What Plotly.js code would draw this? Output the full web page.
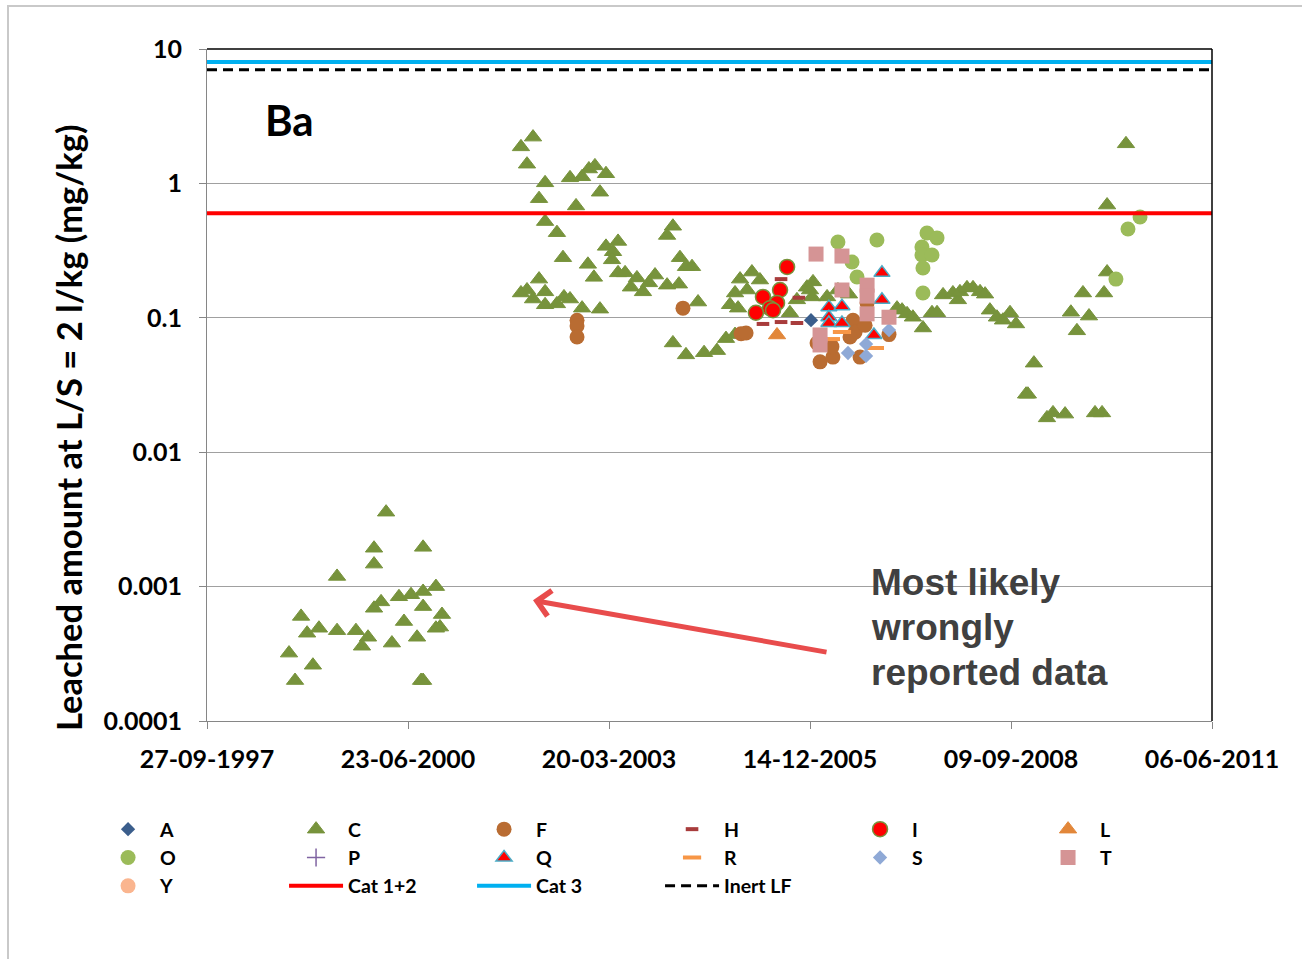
<!DOCTYPE html>
<html><head><meta charset="utf-8">
<script src="https://cdn.plot.ly/plotly-3.0.1.min.js"></script>
<style>
html,body{margin:0;padding:0;background:#fff;overflow:hidden}
#chart{position:absolute;left:0;top:0;width:1302px;height:959px}
#frame{position:absolute;left:7px;top:5px;width:1400px;height:1000px;border-left:2px solid #C9C9C9;border-top:2px solid #C9C9C9;pointer-events:none}
</style></head><body>
<div id="chart"></div><div id="frame"></div>
<script>
// x values are Excel date serials (days), y values in mg/kg
const A_x = [38705];
const A_y = [0.096];
const C_x = [
 36108,36138,36168,36198,36227,36257,36347,36347,36441,36471,36501,36531,36531,36531,36566,36591,36620,36655,36680,36715,36745,36765,36775,36775,36775,36775,36839,36869,36859,36839,
 37262,37322,37292,37382,37352,37506,37566,37600,37630,37685,37655,37536,37382,37441,37471,37595,37625,37685,37720,37745,37715,37745,37780,37839,37809,37869,37899,37929,37989,38048,38018,37989,38053,38083,38113,38143,
 37262,37292,37322,37352,37382,37382,37441,37476,37506,37566,37655,38018,38083,38173,38237,38282,38327,
 38352,38411,38451,38327,38387,38302,38342,38600,38635,38685,38715,38710,38785,38839,38894,38700,
 39133,39158,39183,39212,39262,39307,39332,39362,39411,39436,39446,39481,39511,39546,39571,39595,39630,39660,39695,39725,
 39814,39775,39784,39879,39909,39969,40118,40153,39998,40088,40028,40058,40163,40178,40178,40272
];
const C_y = [
 0.00032,0.0002,0.0006,0.00045,0.00026,0.00049,0.00119,0.00047,0.00047,0.00036,0.00042,0.00193,0.00147,0.00069,0.00077,0.00358,0.00038,0.00084,0.00055,0.00087,0.00042,0.0002,0.0002,0.00196,0.00092,0.00071,0.001,0.00062,0.0005,0.00049,
 1.87,2.21,1.39,1.01,0.77,1.10,1.12,1.28,1.35,1.18,0.86,0.68,0.52,0.43,0.28,0.25,0.20,0.34,0.31,0.37,0.27,0.216,0.216,0.198,0.169,0.156,0.182,0.208,0.175,0.178,0.48,0.41,0.28,0.24,0.24,0.131,
 0.153,0.161,0.138,0.194,0.156,0.125,0.127,0.143,0.138,0.118,0.116,0.065,0.053,0.055,0.057,0.070,0.075,
 0.194,0.219,0.191,0.153,0.161,0.125,0.118,0.109,0.136,0.169,0.185,0.143,0.143,0.161,0.150,0.161,
 0.118,0.114,0.107,0.101,0.084,0.109,0.109,0.148,0.153,0.136,0.156,0.167,0.167,0.156,0.150,0.114,0.101,0.096,0.109,0.090,
 0.046,0.027,0.027,0.018,0.0196,0.0192,0.0196,0.0196,0.110,0.103,0.080,0.153,0.153,0.219,0.69,1.97
];
const F_x = [37541,37541,37541,38068,38357,38382,38735,38750,38814,38809,38914,38924,38949,38984,39093,38899,38974];
const F_y = [0.096,0.087,0.072,0.118,0.076,0.077,0.065,0.047,0.051,0.061,0.096,0.078,0.051,0.129,0.075,0.072,0.088];
const H_x = [38466,38556,38556,38635,38645];
const H_y = [0.090,0.194,0.093,0.0915,0.141];
const I_x = [38586,38551,38466,38536,38501,38431,38516];
const I_y = [0.239,0.161,0.143,0.129,0.118,0.109,0.114];
const L_x = [38536];
const L_y = [0.0745];
const O_x = [38839,39033,38909,38934,39282,39332,39257,39257,39307,39262,39262,40342,40282,40222];
const O_y = [0.366,0.379,0.26,0.201,0.428,0.393,0.336,0.293,0.293,0.235,0.153,0.562,0.458,0.194];
const P_x = [38700];   // no visible value in the chart
const P_y = [null];
const Q_x = [38794,38859,38794,38794,38859,39058,39058,39018];
const Q_y = [0.12,0.122,0.101,0.0915,0.0915,0.216,0.136,0.0745];
const R_x = [38804,38859,39023];
const R_y = [0.0695,0.0784,0.0596];
const S_x = [38889,38979,38979,39093];
const S_y = [0.0547,0.0638,0.052,0.0811];
const T_x = [38730,38859,38859,38984,38984,38984,39093,38750,38750];
const T_y = [0.298,0.288,0.161,0.175,0.145,0.107,0.101,0.0745,0.0628];
const Y_x = [38700];   // no visible value in the chart
const Y_y = [null];
// limit values
const limitCat12 = 0.6;
const limitCat3 = 8;
const limitInertLF = 7;
// axis
const xStart = 35700, xEnd = 40700;
const tickSerials = [35700, 36700, 37700, 38700, 39700, 40700];
const tickLabels = ['27-09-1997','23-06-2000','20-03-2003','14-12-2005','09-09-2008','06-06-2011'];
const yTickVals = [0.0001, 0.001, 0.01, 0.1, 1, 10];
const yTickText = ['0.0001','0.001','0.01','0.1','1','10'];
const arrowTipX = 37322, arrowTipY = 0.00079;
const noteLines = ['Most likely', 'wrongly', 'reported data'];

function d(s){ return new Date(Date.UTC(1899,11,30) + s*86400000).toISOString().slice(0,10); }
function dx(arr){ return arr.map(d); }

const olive = '#77933C';
function pts(name, xs, ys, marker){
  return {type:'scatter', mode:'markers', name:name, x:dx(xs), y:ys, marker:marker, hoverinfo:'skip', showlegend:true};
}
function lim(name, v, line){
  return {type:'scatter', mode:'lines', name:name, x:[d(xStart), d(xEnd)], y:[v, v], line:line, hoverinfo:'skip'};
}
const traces = [
  pts('A', A_x, A_y, {symbol:'diamond', size:11, color:'#3B5E8C'}),
  pts('C', C_x, C_y, {symbol:'triangle-up', size:15, color:olive, line:{color:olive, width:1}}),
  pts('F', F_x, F_y, {symbol:'circle', size:15, color:'#B96C32'}),
  pts('H', H_x, H_y, {symbol:'line-ew', size:9, line:{color:'#A83C3C', width:4}}),
  pts('I', I_x, I_y, {symbol:'circle', size:15, color:'#FF0000', line:{color:olive, width:1.5}}),
  pts('L', L_x, L_y, {symbol:'triangle-up', size:15, color:'#E2873A', line:{color:'#E2873A', width:1}}),
  pts('O', O_x, O_y, {symbol:'circle', size:15, color:'#9BBB59'}),
  pts('P', P_x, P_y, {symbol:'cross-thin', size:13, line:{color:'#8064A2', width:1.5}}),
  pts('Q', Q_x, Q_y, {symbol:'triangle-up', size:14, color:'#FF0000', line:{color:'#4BACC6', width:1.5}}),
  pts('R', R_x, R_y, {symbol:'line-ew', size:13, line:{color:'#F79646', width:4}}),
  pts('S', S_x, S_y, {symbol:'diamond', size:11, color:'#8FA9D6'}),
  pts('T', T_x, T_y, {symbol:'square', size:15, color:'#D59495'}),
  pts('Y', Y_x, Y_y, {symbol:'circle', size:15, color:'#FAB58F'}),
  lim('Cat 1+2', limitCat12, {color:'#FF0000', width:4}),
  lim('Cat 3', limitCat3, {color:'#00B0F0', width:4}),
  lim('Inert LF', limitInertLF, {color:'#000000', width:3, dash:'10px,6px'})
];

const boldLato = {family:'Lato, sans-serif', size:25, color:'#000', weight:700};
const noteFont = {family:'Liberation Sans, Arial, sans-serif', size:37, color:'#404040', weight:700};
const noteY = [0.2054, 0.1384, 0.0729];
const annotations = [
  {xref:'paper', yref:'paper', x:-0.1383, y:0.436, xanchor:'center', yanchor:'middle', textangle:-90,
   text:'Leached amount at L/S = 2 l/kg (mg/kg)', showarrow:false,
   font:{family:'Lato, sans-serif', size:34.5, color:'#000', weight:700}},
  {xref:'paper', yref:'paper', x:0.056, y:0.894, xanchor:'left', yanchor:'middle',
   text:'Ba', showarrow:false, font:{family:'Lato, sans-serif', size:42, color:'#000', weight:700}},
  {xref:'x', yref:'y', x:d(arrowTipX), y:Math.log10(arrowTipY), text:'', showarrow:true,
   ax:295, ay:52, arrowhead:4, arrowsize:1, arrowwidth:5, arrowcolor:'#E84C4C', standoff:0, startstandoff:0}
];
noteLines.forEach(function(t, i){
  annotations.push({xref:'paper', yref:'paper', x:0.6587, y:noteY[i], xanchor:'left', yanchor:'middle',
    text:t, showarrow:false, font:noteFont});
});

const layout = {
  width:1302, height:959,
  margin:{l:207, r:90, t:49, b:238, autoexpand:false},
  paper_bgcolor:'#fff', plot_bgcolor:'#fff',
  showlegend:true,
  xaxis:{
    type:'date', range:[d(xStart), d(xEnd)],
    tickvals:dx(tickSerials), ticktext:tickLabels,
    showgrid:false, zeroline:false,
    showline:true, linecolor:'#868686', linewidth:1,
    ticks:'outside', ticklen:7, tickcolor:'#868686', tickwidth:1,
    tickfont:boldLato, ticklabelstandoff:9
  },
  yaxis:{
    type:'log', range:[-4, 1],
    tickvals:yTickVals, ticktext:yTickText,
    showgrid:true, gridcolor:'#A0A0A0', gridwidth:1,
    zeroline:false, showline:true, linecolor:'#868686', linewidth:1,
    ticks:'outside', ticklen:7, tickcolor:'#868686', tickwidth:1,
    tickfont:boldLato, ticklabelstandoff:12
  },
  legend:{
    orientation:'h', x:-0.1104, xanchor:'left', y:-0.1324, yanchor:'top',
    entrywidth:119, entrywidthmode:'pixels', itemwidth:54,
    font:{family:'Lato, sans-serif', size:19.5, color:'#000', weight:700},
    bgcolor:'rgba(0,0,0,0)', traceorder:'normal'
  },
  shapes:[
    {type:'line', xref:'paper', yref:'paper', x0:0, x1:1, y0:1, y1:1, line:{color:'#000', width:1.5}},
    {type:'line', xref:'paper', yref:'paper', x0:1, x1:1, y0:0, y1:1, line:{color:'#000', width:1.5}}
  ],
  annotations:annotations
};
Plotly.newPlot('chart', traces, layout, {staticPlot:true, displayModeBar:false});
</script></body></html>
